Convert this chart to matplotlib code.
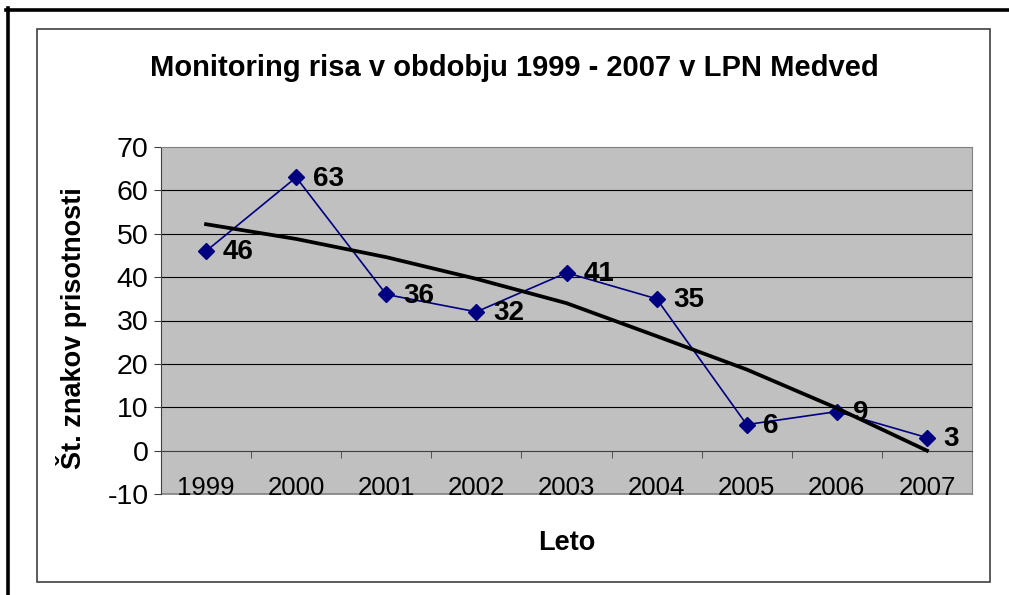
import numpy as np
import matplotlib
matplotlib.use("Agg")
import matplotlib.pyplot as plt
from matplotlib.lines import Line2D
from matplotlib.patches import Rectangle

plt.rcParams['font.family'] = ['Liberation Sans', 'DejaVu Sans']
plt.rcParams['axes.unicode_minus'] = False

# --- data ---
years = ['1999', '2000', '2001', '2002', '2003', '2004', '2005', '2006', '2007']
counts = [46, 63, 36, 32, 41, 35, 6, 9, 3]
# trend line at each year
trend = [52.2, 48.8, 44.6, 39.6, 34.0, 26.4, 18.7, 9.8, 0.0]

title = 'Monitoring risa v obdobju 1999 - 2007 v LPN Medved'
ylabel = 'Št. znakov prisotnosti'
xlabel = 'Leto'

W, H = 1009, 595
fig = plt.figure(figsize=(W / 100, H / 100), dpi=100)

def fx(px):
    return px / W

def fy(py):
    return 1 - py / H

# outer frame (top and left only) + inner chart box
fig.add_artist(Line2D([fx(6), fx(1009)], [fy(9.5), fy(9.5)], color='black', lw=2.6))
fig.add_artist(Line2D([fx(7.5), fx(7.5)], [fy(8), fy(595)], color='black', lw=2.6))
fig.add_artist(Rectangle((fx(36.5), fy(582)), fx(990) - fx(36.5), fy(29) - fy(582),
                         fill=False, edgecolor='#404040', lw=1.2))

# plot area
ax = fig.add_axes([fx(161), fy(494), fx(972) - fx(161), fy(147) - fy(494)])
ax.set_facecolor('#C0C0C0')
x = np.arange(len(years))

ax.set_xlim(-0.5, len(years) - 0.5)
ax.set_ylim(-10, 70)
ax.set_yticks(np.arange(-10, 71, 10))
for v in range(10, 70, 10):
    ax.axhline(v, color='black', lw=0.8, zorder=1)

ax.plot(x, counts, color='#000080', lw=1.2, marker='D', markersize=8, zorder=3)
ax.plot(x, trend, color='black', lw=2.7, zorder=4)

for xi, v in zip(x, counts):
    ax.annotate(str(v), (xi, v), xytext=(12, -1), textcoords='offset points',
                ha='left', va='center', fontsize=20, fontweight='bold', zorder=5)

# spines: x axis sits on y=0
for side in ['top', 'right']:
    ax.spines[side].set_color('#808080')
ax.spines['left'].set_color('#404040')
ax.spines['bottom'].set_position(('data', 0))
ax.spines['bottom'].set_color('#404040')
ax.add_patch(Rectangle((0, 0), 1, 0, transform=ax.transAxes, fill=False,
                       edgecolor='#808080', lw=1.2, clip_on=False))

ax.set_xticks(x)
ax.set_xticklabels(years, fontsize=18.5)
ax.set_xticks(np.arange(-0.5, len(years), 1), minor=True)
ax.tick_params(axis='x', which='major', length=0, pad=18)
ax.tick_params(axis='x', which='minor', length=5, direction='out', color='#404040')
ax.tick_params(axis='y', length=5, pad=4, labelsize=20.5, color='#404040')

ax.set_xlabel(xlabel, fontsize=19.5, fontweight='bold')
ax.xaxis.set_label_coords(0.5, -0.105)
ax.set_ylabel(ylabel, fontsize=19.5, fontweight='bold')
ax.yaxis.set_label_coords(-0.091, 0.478)

fig.text(fx(514), fy(68), title, ha='center', va='center', fontsize=21, fontweight='bold')

fig.savefig('out.png', dpi=100, facecolor='white')
